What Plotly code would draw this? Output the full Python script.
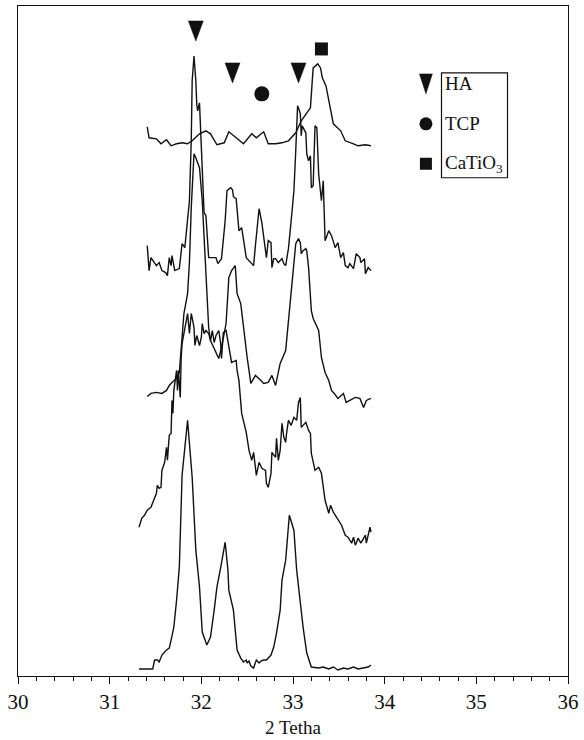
import plotly.graph_objects as go

# ---- diffraction patterns (2θ in degrees, stacked intensity in a.u.) ----
x_a = [31.41, 31.43, 31.51, 31.56, 31.62, 31.67, 31.73, 31.79, 31.85, 31.90, 31.98, 32.05, 32.10, 32.17,
       32.25, 32.30, 32.38, 32.46, 32.55, 32.60, 32.68, 32.73, 32.81, 32.88, 32.95, 33.03, 33.09, 33.19,
       33.22, 33.27, 33.30, 33.32, 33.36, 33.41, 33.44, 33.52, 33.57, 33.66, 33.71, 33.79, 33.85]
y_a = [550, 539, 538, 533, 537, 531, 533, 534, 533, 536, 543, 546, 543, 532,
       534, 545, 539, 533, 543, 539, 545, 533, 533, 534, 536, 544, 556, 569,
       609, 613, 609, 599, 591, 566, 553, 546, 536, 533, 531, 532, 531]

x_b = [31.41, 31.43, 31.45, 31.49, 31.51, 31.54, 31.57, 31.61, 31.63, 31.65, 31.67, 31.68, 31.71, 31.76,
       31.79, 31.82, 31.85, 31.87, 31.89, 31.90, 31.92, 31.94, 31.95, 31.96, 31.98, 31.99, 32.01, 32.03,
       32.05, 32.08, 32.13, 32.16, 32.18, 32.22, 32.26, 32.28, 32.32, 32.34, 32.35, 32.38, 32.41, 32.44,
       32.49, 32.52, 32.54, 32.57, 32.59, 32.63, 32.66, 32.68, 32.71, 32.73, 32.76, 32.77, 32.79, 32.81,
       32.84, 32.88, 32.90, 32.92, 32.95, 32.98, 33.01, 33.03, 33.05, 33.07, 33.08, 33.09, 33.10, 33.14,
       33.15, 33.17, 33.19, 33.20, 33.22, 33.24, 33.26, 33.28, 33.31, 33.33, 33.35, 33.39, 33.42, 33.46,
       33.49, 33.52, 33.55, 33.57, 33.60, 33.62, 33.66, 33.69, 33.73, 33.74, 33.78, 33.79, 33.82, 33.85]
y_b = [431, 406, 419, 414, 411, 414, 406, 404, 401, 419, 411, 421, 406, 408,
       433, 429, 459, 476, 536, 596, 621, 596, 573, 566, 574, 553, 506, 464,
       461, 419, 419, 419, 413, 418, 456, 486, 489, 487, 480, 478, 446, 449,
       419, 416, 413, 411, 431, 468, 454, 439, 419, 436, 434, 409, 418, 418,
       414, 418, 413, 411, 428, 456, 486, 526, 571, 566, 563, 541, 551, 544,
       523, 516, 521, 489, 491, 551, 549, 503, 476, 496, 436, 446, 441, 429,
       434, 419, 424, 411, 409, 413, 408, 423, 419, 414, 418, 403, 409, 406]

x_c = [31.41, 31.45, 31.51, 31.57, 31.62, 31.65, 31.68, 31.73, 31.76, 31.78, 31.81, 31.85, 31.87, 31.89,
       31.90, 31.92, 31.94, 31.98, 32.01, 32.03, 32.05, 32.07, 32.08, 32.10, 32.16, 32.19, 32.22, 32.27,
       32.30, 32.33, 32.37, 32.39, 32.43, 32.46, 32.50, 32.54, 32.59, 32.65, 32.68, 32.73, 32.77, 32.81,
       32.86, 32.92, 32.98, 33.01, 33.03, 33.06, 33.08, 33.09, 33.11, 33.14, 33.15, 33.17, 33.19, 33.20,
       33.22, 33.28, 33.31, 33.35, 33.39, 33.42, 33.45, 33.49, 33.55, 33.58, 33.62, 33.68, 33.73, 33.77,
       33.80, 33.85]
y_c = [280, 283, 284, 283, 286, 291, 294, 298, 304, 326, 363, 383, 414, 469,
       493, 523, 519, 509, 476, 439, 416, 373, 349, 336, 323, 318, 329, 353,
       399, 406, 411, 383, 373, 349, 319, 293, 301, 296, 293, 294, 301, 291,
       313, 326, 386, 416, 433, 438, 434, 423, 426, 428, 426, 409, 386, 366,
       358, 346, 319, 304, 296, 286, 283, 278, 283, 274, 276, 279, 278, 269,
       276, 278]

x_d = [31.32, 31.35, 31.38, 31.41, 31.45, 31.49, 31.51, 31.52, 31.54, 31.56, 31.57, 31.60, 31.62, 31.63,
       31.64, 31.65, 31.67, 31.68, 31.69, 31.70, 31.73, 31.74, 31.75, 31.77, 31.78, 31.79, 31.81, 31.83,
       31.85, 31.87, 31.89, 31.90, 31.92, 31.93, 31.95, 31.98, 32.00, 32.01, 32.03, 32.05, 32.08, 32.10,
       32.12, 32.14, 32.16, 32.19, 32.21, 32.22, 32.24, 32.27, 32.30, 32.33, 32.38, 32.39, 32.41, 32.44,
       32.49, 32.52, 32.55, 32.57, 32.59, 32.60, 32.63, 32.66, 32.70, 32.71, 32.73, 32.76, 32.77, 32.81,
       32.82, 32.84, 32.86, 32.88, 32.90, 32.92, 32.93, 32.95, 32.98, 33.01, 33.04, 33.06, 33.08, 33.09,
       33.14, 33.17, 33.19, 33.20, 33.24, 33.28, 33.31, 33.35, 33.39, 33.41, 33.44, 33.49, 33.53, 33.57,
       33.60, 33.64, 33.66, 33.68, 33.71, 33.74, 33.79, 33.80, 33.84, 33.85]
y_d = [149, 158, 161, 166, 169, 178, 183, 191, 188, 189, 206, 214, 229, 216,
       233, 241, 243, 276, 263, 286, 306, 286, 306, 279, 319, 333, 343, 353,
       363, 343, 363, 359, 349, 331, 341, 331, 339, 353, 343, 346, 343, 336,
       346, 334, 341, 346, 334, 318, 344, 346, 329, 314, 316, 306, 296, 263,
       244, 226, 216, 224, 209, 201, 214, 208, 206, 193, 189, 203, 224, 219,
       238, 216, 226, 253, 239, 234, 243, 256, 251, 259, 256, 274, 279, 249,
       254, 246, 243, 223, 206, 209, 203, 176, 163, 171, 164, 156, 151, 141,
       139, 133, 139, 131, 138, 133, 141, 133, 149, 144]

x_e = [31.32, 31.47, 31.49, 31.52, 31.54, 31.56, 31.57, 31.62, 31.65, 31.67, 31.70, 31.73, 31.76, 31.79,
       31.85, 31.90, 31.94, 31.98, 32.01, 32.06, 32.10, 32.14, 32.17, 32.21, 32.26, 32.29, 32.30, 32.35,
       32.39, 32.43, 32.46, 32.49, 32.50, 32.52, 32.54, 32.57, 32.60, 32.63, 32.65, 32.68, 32.71, 32.76,
       32.79, 32.82, 32.86, 32.88, 32.92, 32.96, 33.01, 33.04, 33.06, 33.11, 33.15, 33.20, 33.28, 33.33,
       33.39, 33.44, 33.49, 33.55, 33.60, 33.66, 33.71, 33.76, 33.82, 33.85]
y_e = [7, 7, 16, 16, 14, 18, 21, 26, 28, 36, 49, 76, 109, 201,
       256, 199, 126, 89, 44, 31, 39, 66, 89, 108, 134, 106, 86, 66,
       26, 18, 14, 16, 13, 15, 10, 8, 16, 13, 15, 16, 16, 21,
       29, 43, 66, 96, 116, 161, 146, 106, 89, 49, 23, 9, 8, 9,
       7, 9, 6, 8, 7, 9, 7, 8, 9, 11]

# ---- phase reflections marked above the patterns ----
ha_x = [31.94, 32.34, 33.06]
ha_y = [646, 604, 604]
tcp_x = [32.66]
tcp_y = [583]
cto_x = [33.31]
cto_y = [628]

# ---- legend entries ----
legend_labels = ["HA", "TCP", "CaTiO<sub>3</sub>"]
legend_key_x = 34.45
legend_y = [593, 553, 513]
legend_box = [34.62, 35.34, 499, 604]

X_RANGE = [30, 36]
Y_RANGE = [0, 671]
W, H = 584, 740
M = dict(l=18, r=13, t=5, b=64)
PX_PER_X = (W - M["l"] - M["r"]) / (X_RANGE[1] - X_RANGE[0])
PX_PER_Y = (H - M["t"] - M["b"]) / (Y_RANGE[1] - Y_RANGE[0])

INK = "#111111"
SERIF = "Liberation Serif, Times New Roman, serif"


def triangles_down(xs, ys, width_px, height_px):
    """Filled downward-pointing triangles centred on each (x, y)."""
    hw = width_px / 2 / PX_PER_X
    hh = height_px / 2 / PX_PER_Y
    px, py = [], []
    for xc, yc in zip(xs, ys):
        px += [xc - hw, xc + hw, xc, xc - hw, None]
        py += [yc + hh, yc + hh, yc - hh, yc + hh, None]
    return px, py


fig = go.Figure()

for xs, ys in [(x_a, y_a), (x_b, y_b), (x_c, y_c), (x_d, y_d), (x_e, y_e)]:
    fig.add_trace(go.Scatter(x=xs, y=ys, mode="lines",
                             line=dict(color=INK, width=1.4), hoverinfo="skip"))

# HA reflections
tx, ty = triangles_down(ha_x, ha_y, 15, 20)
fig.add_trace(go.Scatter(x=tx, y=ty, mode="lines", fill="toself", fillcolor=INK,
                         line=dict(color=INK, width=0.5), hoverinfo="skip"))
# TCP reflection
fig.add_trace(go.Scatter(x=tcp_x, y=tcp_y, mode="markers",
                         marker=dict(symbol="circle", size=15, color=INK), hoverinfo="skip"))
# CaTiO3 reflection
fig.add_trace(go.Scatter(x=cto_x, y=cto_y, mode="markers",
                         marker=dict(symbol="square", size=13, color=INK), hoverinfo="skip"))

# legend keys
lx, ly = triangles_down([legend_key_x], [legend_y[0]], 13, 20)
fig.add_trace(go.Scatter(x=lx, y=ly, mode="lines", fill="toself", fillcolor=INK,
                         line=dict(color=INK, width=0.5), hoverinfo="skip"))
fig.add_trace(go.Scatter(x=[legend_key_x], y=[legend_y[1]], mode="markers",
                         marker=dict(symbol="circle", size=13, color=INK), hoverinfo="skip"))
fig.add_trace(go.Scatter(x=[legend_key_x], y=[legend_y[2]], mode="markers",
                         marker=dict(symbol="square", size=12, color=INK), hoverinfo="skip"))

for label, yv in zip(legend_labels, legend_y):
    fig.add_annotation(x=legend_box[0], y=yv, text=label, showarrow=False,
                       xanchor="left", yanchor="middle", xshift=1,
                       font=dict(family=SERIF, size=19, color=INK))

fig.add_shape(type="rect", x0=legend_box[0], x1=legend_box[1], y0=legend_box[2], y1=legend_box[3],
              line=dict(color=INK, width=1.2))

fig.update_layout(
    width=W, height=H, margin=M,
    paper_bgcolor="white", plot_bgcolor="white",
    showlegend=False,
    font=dict(family=SERIF, color=INK),
    xaxis=dict(
        range=X_RANGE, dtick=1, tick0=30,
        showgrid=False, zeroline=False,
        showline=True, linecolor=INK, linewidth=1.2, mirror=True,
        ticks="outside", ticklen=7, tickwidth=1.2, tickcolor=INK,
        minor=dict(dtick=0.2, ticks="outside", ticklen=4, tickwidth=1, tickcolor=INK, showgrid=False),
        tickfont=dict(family=SERIF, size=21, color=INK),
        title=dict(text="2 Tetha", font=dict(family=SERIF, size=19, color=INK), standoff=7),
    ),
    yaxis=dict(
        range=Y_RANGE, showgrid=False, zeroline=False,
        showline=True, linecolor=INK, linewidth=1.2, mirror=True,
        ticks="", showticklabels=False,
    ),
)

fig.write_html("out.html")
